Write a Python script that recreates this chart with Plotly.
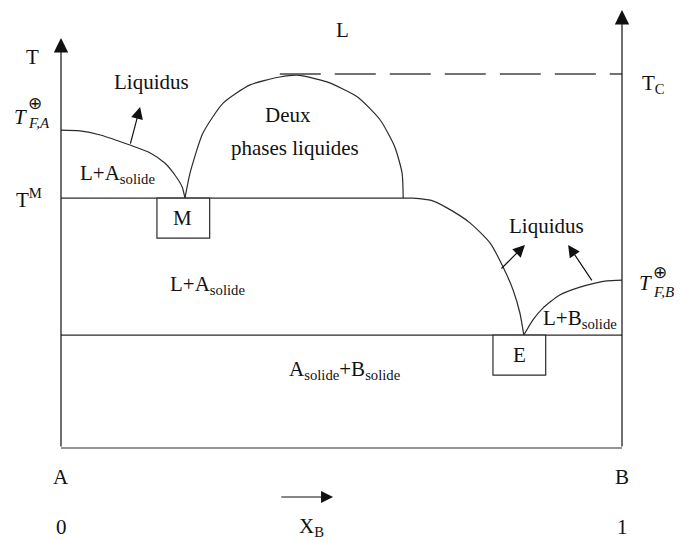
import plotly.graph_objects as go

# Diagramme binaire A-B : démixtion liquide, monotectique M et eutectique E
# Composition X_B (0 -> 1), température en unités arbitraires (T_C = 100)

T_FA = 85.0      # fusion de A pur
T_FB = 44.9      # fusion de B pur
T_M = 66.8       # palier monotectique
T_E = 30.2       # palier eutectique
T_C = 100.0      # température critique de démixtion
X_M = 0.221
X_E = 0.825
T_TOP_A = 109.6  # haut de l'axe T (côté A)
T_TOP_B = 117.1  # haut de l'axe côté B

# Liquidus côté A (de T_F,A jusqu'à M)
x_liq_a = [0.0, 0.034, 0.070, 0.123, 0.159, 0.185, 0.203, 0.216, X_M]
t_liq_a = [T_FA, 84.8, 83.7, 81.0, 78.9, 76.2, 73.0, 69.8, T_M]

# Lacune de miscibilité (deux phases liquides)
x_dome = [X_M, 0.230, 0.253, 0.289, 0.337, 0.390, 0.421, 0.474, 0.528, 0.569, 0.595, 0.608, 0.610]
t_dome = [T_M, 73.5, 84.2, 92.2, 97.1, 99.2, 99.7, 97.9, 93.9, 87.7, 80.5, 73.5, T_M]

# Palier monotectique puis liquidus descendant jusqu'à E
x_palier_m = [0.0, 0.627]
x_liq_m = [0.627, 0.660, 0.688, 0.729, 0.765, 0.788, 0.806, 0.818, X_E]
t_liq_m = [T_M, 66.2, 64.2, 60.2, 54.8, 48.4, 42.2, 36.1, T_E]

# Liquidus côté B (de E jusqu'à T_F,B)
x_liq_b = [X_E, 0.841, 0.859, 0.889, 0.925, 0.952, 0.973, 1.0]
t_liq_b = [T_E, 34.2, 37.4, 40.9, 43.0, 44.1, 44.7, T_FB]

# Flèches « Liquidus » : (x queue, T queue, x pointe, T pointe)
liq_arrows = [
    (0.123, 81.0, 0.141, 91.2),
    (0.7825, 47.6, 0.827, 54.3),
    (0.948, 44.4, 0.904, 54.3),
]

FONT = "Liberation Serif"
INK = "#111111"
LINE = "#2b2b2b"
FS = 21

fig = go.Figure()

def add_line(x, t, dash=None, color=LINE, width=1.2, smooth=True):
    fig.add_trace(go.Scatter(
        x=x, y=t, mode="lines", hoverinfo="skip", showlegend=False,
        line=dict(color=color, width=width, dash=dash,
                  shape="spline" if smooth else "linear", smoothing=0.6),
    ))

add_line(x_liq_a, t_liq_a)
add_line(x_dome, t_dome)
add_line(x_palier_m, [T_M, T_M], smooth=False)
add_line(x_liq_m, t_liq_m)
add_line(x_liq_b, t_liq_b)
# palier eutectique et base
add_line([0.0, 1.0], [T_E, T_E], smooth=False)
add_line([0.0, 1.0], [0.0, 0.0], smooth=False)
# température critique (tirets)
add_line([0.390, 1.0], [T_C, T_C], dash="41px,14px", color="#444444", width=1.5, smooth=False)

# cadres M et E
for xc, tc in [(X_M - 0.003, T_M), (X_E - 0.008, T_E)]:
    fig.add_shape(type="rect", xref="x", yref="y",
                  x0=xc - 0.047, x1=xc + 0.047, y0=tc, y1=tc - 10.7,
                  line=dict(color=LINE, width=1.2), fillcolor="white", layer="above")

def arrow(x0, t0, x1, t1, size=2.2, width=1.2):
    # flèche à tête pleine de la queue (x0, t0) vers la pointe (x1, t1)
    fig.add_annotation(x=x1, y=t1, ax=x0, ay=t0, xref="x", yref="y",
                       axref="x", ayref="y", text="", showarrow=True,
                       arrowhead=2, arrowsize=size, arrowwidth=width,
                       arrowcolor=INK, standoff=0, startstandoff=0)

# axes de température
arrow(0.0, 0.0, 0.0, T_TOP_A, size=2.4)
arrow(1.0, 0.0, 1.0, T_TOP_B, size=2.4)
for a in liq_arrows:
    arrow(*a, size=2.0)
# sens de X_B
arrow(0.390, -13.1, 0.485, -13.1, size=2.0)

def label(x, t, text, size=FS, italic=False):
    fig.add_annotation(x=x, y=t, xref="x", yref="y", text=text, showarrow=False,
                       font=dict(family=FONT, size=size, color=INK,
                                 style="italic" if italic else "normal"),
                       xanchor="center", yanchor="middle")

label(-0.050, 104.5, "T")
label(-0.073, 88.5, "T", italic=True)
label(-0.046, 92.2, "⊕", size=17)
label(-0.040, 86.8, "F,A", size=15, italic=True)
label(-0.057, 66.8, "T<sup>M</sup>")
label(0.162, 97.9, "Liquidus")
label(0.100, 73.3, "L+A<sub>solide</sub>")
label(0.217, 61.5, "M")
label(0.501, 111.8, "L")
label(0.405, 89.0, "Deux")
label(0.417, 80.2, "phases liquides")
label(1.057, 97.3, "T<sub>C</sub>")
label(0.866, 59.4, "Liquidus")
label(1.041, 44.1, "T", italic=True)
label(1.068, 46.8, "⊕", size=17)
label(1.074, 41.8, "F,B", size=15, italic=True)
label(0.925, 34.5, "L+B<sub>solide</sub>")
label(0.818, 24.9, "E")
label(0.262, 43.6, "L+A<sub>solide</sub>")
label(0.506, 20.9, "A<sub>solide</sub>+B<sub>solide</sub>")
label(0.0, -7.75, "A")
label(1.0, -7.75, "B")
label(0.0, -21.1, "0")
label(0.447, -21.1, "X<sub>B</sub>")
label(1.0, -21.1, "1")

px_per_x = 561.0
px_per_t = 3.74
fig.update_layout(
    width=680, height=540,
    margin=dict(l=0, r=0, t=0, b=0),
    paper_bgcolor="white", plot_bgcolor="white",
    xaxis=dict(range=[-61 / px_per_x, 619 / px_per_x], visible=False, fixedrange=True),
    yaxis=dict(range=[-92 / px_per_t, 448 / px_per_t], visible=False, fixedrange=True),
    showlegend=False,
)

fig.write_html("out.html")
